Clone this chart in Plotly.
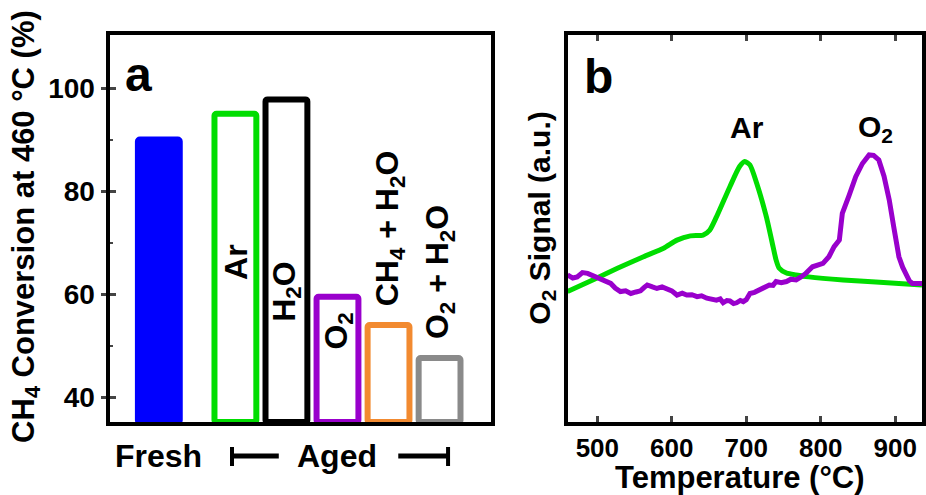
import plotly.graph_objects as go

W, H = 926, 495
def fx(px):
    return px / W
def fy(py):
    return 1 - py / H

# ---------------- Panel a data ----------------
conditions = ["Fresh", "Ar", "H2O", "O2", "CH4 + H2O", "O2 + H2O"]
conversion = [90.0, 95.0, 97.8, 59.5, 54.0, 47.6]
bar_fill = ["#0000FF", "white", "white", "white", "white", "white"]
bar_edge = ["#0000FF", "#00DD00", "#000000", "#9900CC", "#F28A30", "#8A8A8A"]
y_ticks_a = [40, 60, 80, 100]

# ---------------- Panel b data ----------------
ar_temp = [460, 496, 527, 562, 589, 607, 625, 642, 651, 660, 678, 691, 698, 705,
           714, 727, 736, 740, 744, 754, 767, 784, 830, 874, 936]
ar_signal = [33.7, 36.9, 39.7, 42.7, 44.9, 47.0, 48.1, 48.3, 49.6, 53.0, 60.8, 66.0,
             67.3, 66.4, 61.7, 53.0, 45.3, 41.9, 39.8, 38.5, 38.0, 37.5, 36.7, 36.2, 35.4]

o2_temp = [460, 467, 473, 480, 487, 493, 500, 509, 518, 524, 531, 538, 545, 552, 558,
           563, 567, 574, 580, 587, 594, 600, 607, 614, 620, 627, 634, 640, 647, 653,
           660, 665, 669, 674, 678, 683, 687, 692, 696, 700, 705, 711, 718, 724, 731,
           736, 740, 747, 754, 760, 767, 773, 780, 789, 796, 803, 811, 818, 825, 829,
           838, 847, 856, 865, 871, 878, 885, 892, 898, 903, 905, 910, 914, 919, 923, 936]
o2_signal = [38.0, 37.2, 37.5, 38.6, 38.4, 37.9, 37.5, 36.8, 35.8, 34.6, 33.7, 33.9,
             33.2, 33.6, 33.9, 34.8, 35.4, 34.9, 34.5, 34.9, 34.3, 33.9, 32.8, 33.3,
             32.8, 32.9, 32.4, 32.6, 32.0, 31.9, 31.5, 31.8, 30.8, 31.4, 31.3, 30.6,
             30.8, 31.4, 31.1, 31.6, 33.2, 33.5, 34.1, 34.9, 35.4, 35.3, 36.3, 36.0,
             36.3, 36.9, 36.7, 37.4, 38.4, 40.1, 40.5, 41.0, 42.7, 45.3, 47.0, 53.9,
             58.5, 63.4, 66.8, 69.0, 68.9, 67.7, 63.5, 57.4, 50.5, 44.4, 42.7, 40.0,
             38.4, 36.5, 35.8, 35.8]
x_ticks_b = [500, 600, 700, 800, 900]

GREEN = "#00DD00"
PURPLE = "#9900CC"
FONT = "Liberation Sans, Arial, Helvetica, sans-serif"

YMIN_A, YMAX_A = 35.2, 110.3
slots = [0.0] + [1.5 + i for i in range(len(conditions) - 1)]

fig = go.Figure()

fig.add_trace(go.Bar(
    x=slots, y=[v - YMIN_A for v in conversion], base=YMIN_A,
    width=0.82,
    marker=dict(color=bar_fill, line=dict(color=bar_edge, width=6), cornerradius=2),
    xaxis="x", yaxis="y", showlegend=False, hoverinfo="skip",
))
# overlay axis for inside tick marks of panel a
fig.add_trace(go.Scatter(x=[None], y=[None], xaxis="x", yaxis="y3",
                         showlegend=False, hoverinfo="skip"))

fig.add_trace(go.Scatter(
    x=ar_temp, y=ar_signal, mode="lines",
    line=dict(color=GREEN, width=5, shape="spline", smoothing=0.6),
    xaxis="x2", yaxis="y2", showlegend=False, hoverinfo="skip"))
fig.add_trace(go.Scatter(
    x=o2_temp, y=o2_signal, mode="lines", line=dict(color=PURPLE, width=5),
    xaxis="x2", yaxis="y2", showlegend=False, hoverinfo="skip"))

ydom = [fy(422), fy(35)]
axis_common = dict(showline=True, linecolor="black", linewidth=4, mirror=True,
                   showgrid=False, zeroline=False)

fig.update_layout(
    width=W, height=H, margin=dict(l=0, r=0, t=0, b=0),
    paper_bgcolor="white", plot_bgcolor="white",
    font=dict(family=FONT, color="black"),
    xaxis=dict(domain=[fx(110), fx(493)], range=[-0.966, 6.505], anchor="y",
               showticklabels=False, ticks="", **axis_common),
    yaxis=dict(domain=ydom, range=[YMIN_A, YMAX_A], anchor="x",
               tickvals=y_ticks_a, ticks="outside", ticklen=5, tickwidth=3,
               tickfont=dict(size=28, weight="bold", family=FONT), **axis_common),
    yaxis3=dict(domain=ydom, range=[YMIN_A, YMAX_A], anchor="x", overlaying="y",
                tickvals=y_ticks_a, ticks="inside", ticklen=6, tickwidth=3,
                showticklabels=False, showline=False, showgrid=False, zeroline=False,
                minor=dict(tickvals=[50, 70, 90], ticks="inside", ticklen=3, tickwidth=2)),
    xaxis2=dict(domain=[fx(570), 1.0], range=[460, 936], anchor="y2",
                tickvals=x_ticks_b, ticks="inside", ticklen=6, tickwidth=3,
                ticklabelstandoff=0,
                tickfont=dict(size=26, weight="bold", family=FONT),
                **{**axis_common, "mirror": "ticks"}),
    yaxis2=dict(domain=ydom, range=[0, 100], anchor="x2", showticklabels=False,
                ticks="", **axis_common),
)

def ann(text, px, py, size, angle=0):
    fig.add_annotation(text=text, x=fx(px), y=fy(py), xref="paper", yref="paper",
                       xanchor="center", yanchor="middle", showarrow=False,
                       textangle=angle, font=dict(size=size, family=FONT, color="black"))

# panel letters
ann("<b>a</b>", 139, 75, 48)
ann("<b>b</b>", 601, 76, 48)

# axis titles
ann("<b>CH<sub>4</sub> Conversion at 460 °C (%)</b>", 26, 226, 31, -90)
ann("<b>O<sub>2</sub> Signal (a.u.)</b>", 544, 218, 30, -90)
ann("<b>Temperature (°C)</b>", 743, 477, 31)

# bar labels
ann("<b>Ar</b>", 237, 262, 32, -90)
ann("<b>H<sub>2</sub>O</b>", 287, 292, 32, -90)
ann("<b>O<sub>2</sub></b>", 339, 331, 32, -90)
ann("<b>CH<sub>4</sub> + H<sub>2</sub>O</b>", 391, 228, 32, -90)
ann("<b>O<sub>2</sub> + H<sub>2</sub>O</b>", 441, 272, 32, -90)

# group labels
ann("<b>Fresh</b>", 159, 456, 32)
ann("<b>Aged</b>", 338, 456, 32)

# curve labels
ann("<b>Ar</b>", 750, 127, 30)
ann("<b>O<sub>2</sub></b>", 879, 128, 30)

# bracket decoration for "Aged"
def seg(x0, y0, x1, y1, w):
    fig.add_shape(type="line", xref="paper", yref="paper",
                  x0=fx(x0), y0=fy(y0), x1=fx(x1), y1=fy(y1),
                  line=dict(color="black", width=w))
seg(232, 456, 280, 456, 5)
seg(233, 447, 233, 466, 4)
seg(400, 456, 451, 456, 5)
seg(450, 447, 450, 466, 4)

fig.write_html("out.html")
